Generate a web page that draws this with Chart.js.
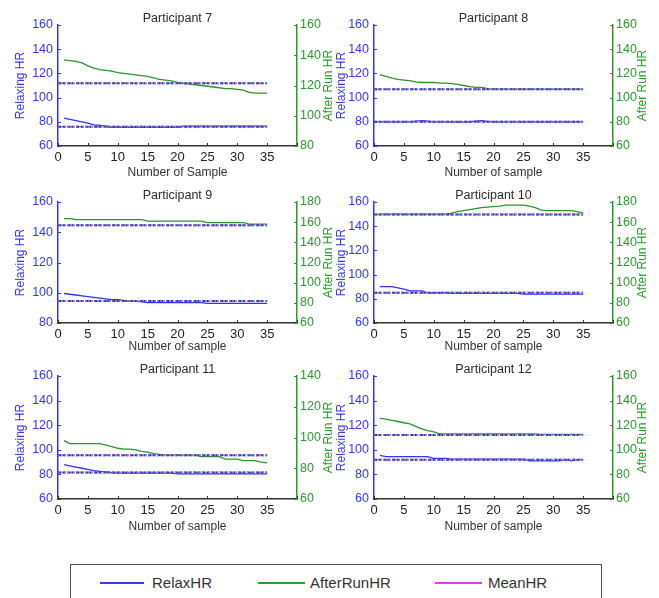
<!DOCTYPE html>
<html>
<head>
<meta charset="utf-8">
<script src="https://cdn.jsdelivr.net/npm/chart.js@4.4.0/dist/chart.umd.min.js"></script>
<style>
  body { margin: 0; background: #fff; width: 659px; height: 598px; overflow: hidden; position: relative; font-family: 'Liberation Sans', Arial, sans-serif; }
  canvas { position: absolute; }
  #legend { position: absolute; left: 70px; top: 564px; width: 532px; height: 50px; border: 1.5px solid #555; box-sizing: border-box; }
  #legend .swatch { position: absolute; top: 17px; height: 1.5px; }
  #legend .label { position: absolute; top: 9px; font-size: 15px; line-height: 17px; color: #333; }
</style>
</head>
<body>
<canvas id="p7"></canvas>
<canvas id="p8"></canvas>
<canvas id="p9"></canvas>
<canvas id="p10"></canvas>
<canvas id="p11"></canvas>
<canvas id="p12"></canvas>
<div id="legend">
  <div class="swatch" style="left:29px;width:44px;background:#3a3aff"></div>
  <div class="label" style="left:81px">RelaxHR</div>
  <div class="swatch" style="left:187px;width:47px;background:#2f9a2f"></div>
  <div class="label" style="left:239px">AfterRunHR</div>
  <div class="swatch" style="left:364px;width:47px;background:#e040e0"></div>
  <div class="label" style="left:417px">MeanHR</div>
</div>
<script>
// Data
const titles = ['Participant 7', 'Participant 8', 'Participant 9', 'Participant 10', 'Participant 11', 'Participant 12'];
const xTitles = ['Number of Sample', 'Number of sample', 'Number of sample', 'Number of sample', 'Number of sample', 'Number of sample'];
const samples = [1, 2, 3, 4, 5, 6, 7, 8, 9, 10, 11, 12, 13, 14, 15, 16, 17, 18, 19, 20, 21, 22, 23, 24, 25, 26, 27, 28, 29, 30, 31, 32, 33, 34, 35];
const meanX = [0, 35];

const relax7 = [83, 82, 81, 80, 79, 77.5, 77, 76.5, 75.5, 75.5, 75.5, 75.5, 75.5, 75.5, 75.5, 75.5, 75.5, 75.5, 75.5, 75.5, 76.5, 76.5, 76.5, 76.5, 76.5, 76.5, 76.5, 76.5, 76.5, 76.5, 76.5, 76.5, 76.5, 76.5, 76.5];
const after7 = [137, 136.5, 136, 135, 133, 131.5, 130.5, 130, 129.5, 128.5, 128, 127.5, 127, 126.5, 126, 125, 124, 123.5, 123, 122, 121.5, 121, 120.5, 120, 119.5, 119, 118.5, 118, 118, 117.5, 117, 115.5, 115, 115, 115];
const relax8 = [80, 80, 80, 80, 80, 80, 80.5, 81, 80.5, 80, 80, 80, 80, 79.8, 79.8, 80, 80.5, 81, 80.3, 80, 80, 80, 80, 80, 80, 80, 80, 80, 80, 80, 80, 80, 80, 80, 80];
const after8 = [119, 117.5, 116, 115, 114.5, 114, 113, 112.5, 112.5, 112.5, 112, 112, 111.5, 111, 110, 109, 108.5, 108.5, 107.5, 107, 107, 107, 107, 107, 107, 107, 107, 107, 107, 107, 107, 107, 107, 107, 107];
const relax9 = [99.5, 99, 98.5, 98, 97.5, 97, 96.5, 96, 95.5, 95.5, 95, 94.5, 94.5, 94, 93.5, 93.5, 93.5, 93.5, 93.5, 93.5, 93.5, 93.5, 93.5, 93.5, 93, 93, 93, 93, 93, 93, 93, 93, 93, 93, 93];
const after9 = [163.5, 163.5, 162.5, 162.5, 162.5, 162.5, 162.5, 162.5, 162.5, 162.5, 162.5, 162.5, 162.5, 162.5, 161, 161, 161, 161, 161, 161, 161, 161, 161, 161, 159.5, 159.5, 159.5, 159.5, 159.5, 159.5, 159.5, 158, 158, 158, 158];
const relax10 = [90, 90, 90, 89, 88, 86.5, 86.5, 86.5, 85, 85, 85, 85, 84.5, 84.5, 84.5, 84.5, 84.5, 84.5, 84.5, 84.5, 84.5, 84.5, 84.5, 84.5, 83.8, 83.8, 83.8, 83.8, 83.8, 83.8, 83.8, 83.8, 83.8, 83.8, 83.8];
const after10 = [168, 168, 168, 168, 168, 168, 168, 168, 168, 168, 168, 168, 169, 170.5, 171.5, 172.5, 173.5, 174.5, 175, 175.5, 176, 177, 177, 177, 177, 176, 174.5, 172, 171.5, 171.5, 171.5, 171.5, 171.5, 170.5, 169];
const relax11 = [88, 87, 86, 85, 84, 83, 82.5, 82, 81.5, 81, 81, 81, 81, 81, 81, 81, 81, 81, 81, 80.5, 80.5, 80.5, 80.5, 80.5, 80.5, 80.5, 80.5, 80.5, 80.5, 80.5, 80.5, 80.5, 80.5, 80.5, 80.5];
const after11 = [98, 96, 96, 96, 96, 96, 96, 95, 94, 93, 92.5, 92.5, 92, 91, 90.5, 89.5, 89, 88.5, 88.5, 88.5, 88.5, 88.5, 88.5, 87.5, 87.5, 87.5, 87.5, 86, 86, 86, 85, 85, 85, 84, 83.5];
const relax12 = [95.5, 94.5, 94.5, 94.5, 94.5, 94.5, 94.5, 94.5, 94.5, 93, 93, 93, 92.5, 92.5, 92.5, 92.5, 92.5, 92.5, 92.5, 92.5, 92.5, 92.5, 92.5, 92.5, 92.5, 91, 91, 91, 91, 91, 91, 92, 91, 92, 92];
const after12 = [125.5, 125, 124, 123, 122, 121, 119, 117, 115.5, 114.5, 113, 113, 113, 113, 113, 113, 113, 113, 113, 113, 113, 113, 113, 113, 113, 113, 113, 112.5, 112.5, 112.5, 112.5, 112.5, 112.5, 112.5, 112.5];

const relaxSeries = [relax7, relax8, relax9, relax10, relax11, relax12];
const afterSeries = [after7, after8, after9, after10, after11, after12];
const relaxMean = [76, 80, 94.5, 85, 81.5, 92];
const afterMean = [121.5, 107, 157, 167.5, 88.5, 112];

const leftMin = [60, 60, 80, 60, 60, 60];
const leftMax = [160, 160, 160, 160, 160, 160];
const rightMin = [80, 60, 60, 60, 60, 60];
const rightMax = [160, 160, 180, 180, 140, 160];

// Layout of the 3x2 grid (page pixels)
const colLeft = [0, 321];
const colWidth = [345, 338];
const leftAxisW = [58, 53];
const rightAxisW = [48, 46];
const rowTop = [0, 177, 351];
const rowHeight = [180, 177, 183];
const xAxisH = [34, 31, 35];

const FONT = "'Liberation Sans', Arial, sans-serif";
const BLUE = '#3434ff';
const GREEN = '#2a9a2a';

function toPoints(xs, ys) {
    return xs.map((x, i) => ({ x: x, y: ys[i] }));
}

// Panel title, right axis title and small inward tick marks
const panelDecor = {
    id: 'panelDecor',
    afterDraw(chart, args, opts) {
        const ctx = chart.ctx;
        const a = chart.chartArea;
        ctx.save();

        ctx.fillStyle = '#2b2b2b';
        ctx.font = '12.5px ' + FONT;
        ctx.textAlign = 'center';
        ctx.textBaseline = 'alphabetic';
        ctx.fillText(opts.title, (a.left + a.right) / 2, a.top - 3.5);

        ctx.translate(chart.width - 16.5, (a.top + a.bottom) / 2);
        ctx.rotate(-Math.PI / 2);
        ctx.fillStyle = GREEN;
        ctx.font = '12px ' + FONT;
        ctx.textBaseline = 'middle';
        ctx.fillText('After Run HR', 0, 0);
        ctx.setTransform(1, 0, 0, 1, 0, 0);

        ctx.lineWidth = 1;
        const sx = chart.scales.x, sy = chart.scales.y, sy1 = chart.scales.y1;
        ctx.strokeStyle = '#333';
        sx.ticks.forEach(t => {
            const px = Math.round(sx.getPixelForValue(t.value)) + 0.5;
            ctx.beginPath(); ctx.moveTo(px, a.bottom); ctx.lineTo(px, a.bottom - 3); ctx.stroke();
        });
        ctx.strokeStyle = BLUE;
        sy.ticks.forEach(t => {
            const py = Math.round(sy.getPixelForValue(t.value)) + 0.5;
            ctx.beginPath(); ctx.moveTo(a.left, py); ctx.lineTo(a.left + 3, py); ctx.stroke();
        });
        ctx.strokeStyle = GREEN;
        sy1.ticks.forEach(t => {
            const py = Math.round(sy1.getPixelForValue(t.value)) + 0.5;
            ctx.beginPath(); ctx.moveTo(a.right, py); ctx.lineTo(a.right - 3, py); ctx.stroke();
        });
        ctx.restore();
    }
};

// Mean line is drawn as overlapping dotted layers, like the MATLAB print
function meanLayers(value, axisId) {
    const pts = toPoints(meanX, [value, value]);
    const base = { data: pts, yAxisID: axisId, pointRadius: 0, borderWidth: 2 };
    return [
        { ...base, borderColor: '#ff2a6a', borderDash: [1.5, 4.5], borderDashOffset: 0 },
        { ...base, borderColor: '#22cccc', borderDash: [1.5, 4.5], borderDashOffset: 3 },
        { ...base, borderColor: '#2525ee', borderDash: [3, 1.5] }
    ];
}

titles.forEach((title, i) => {
    const col = i % 2;
    const row = Math.floor(i / 2);
    const canvas = document.getElementById('p' + (7 + i));
    canvas.width = colWidth[col];
    canvas.height = rowHeight[row];
    canvas.style.left = colLeft[col] + 'px';
    canvas.style.top = rowTop[row] + 'px';

    const datasets = [
        ...meanLayers(relaxMean[i], 'y'),
        ...meanLayers(afterMean[i], 'y1'),
        { label: 'RelaxHR', data: toPoints(samples, relaxSeries[i]), yAxisID: 'y', borderColor: '#3030ff', borderWidth: 1.3, pointRadius: 0 },
        { label: 'AfterRunHR', data: toPoints(samples, afterSeries[i]), yAxisID: 'y1', borderColor: '#2a962a', borderWidth: 1.3, pointRadius: 0 }
    ];

    new Chart(canvas.getContext('2d'), {
        type: 'line',
        data: { datasets: datasets },
        plugins: [panelDecor],
        options: {
            responsive: false,
            animation: false,
            layout: { padding: { top: 25, left: 0, right: 0, bottom: 0 } },
            elements: { line: { tension: 0 } },
            plugins: {
                legend: { display: false },
                tooltip: { enabled: false },
                panelDecor: { title: title }
            },
            scales: {
                x: {
                    type: 'linear', position: 'bottom', min: 0, max: 40,
                    afterFit: s => { s.height = xAxisH[row]; },
                    grid: { display: true, drawOnChartArea: false, drawTicks: false },
                    border: { color: '#333', width: 1.5 },
                    ticks: { stepSize: 5, padding: 4, color: '#222', maxRotation: 0, autoSkip: false,
                             font: { size: 13, family: FONT },
                             callback: v => (v === 40 ? '' : v) },
                    title: { display: true, text: xTitles[i], color: '#333', font: { size: 12, family: FONT }, padding: { top: 0, bottom: 0 } }
                },
                y: {
                    position: 'left', min: leftMin[i], max: leftMax[i],
                    afterFit: s => { s.width = leftAxisW[col]; },
                    grid: { display: true, drawOnChartArea: false, drawTicks: false },
                    border: { color: BLUE, width: 1.5 },
                    ticks: { stepSize: 20, padding: 5, color: BLUE, font: { size: 12.5, family: FONT } },
                    title: { display: true, text: 'Relaxing HR', color: BLUE, font: { size: 12, family: FONT }, padding: { top: 13, bottom: 0 } }
                },
                y1: {
                    position: 'right', min: rightMin[i], max: rightMax[i],
                    afterFit: s => { s.width = rightAxisW[col]; },
                    grid: { display: true, drawOnChartArea: false, drawTicks: false },
                    border: { color: GREEN, width: 1.5 },
                    ticks: { stepSize: 20, padding: 3, color: GREEN, font: { size: 12.5, family: FONT } }
                }
            }
        }
    });
});
</script>
</body>
</html>
